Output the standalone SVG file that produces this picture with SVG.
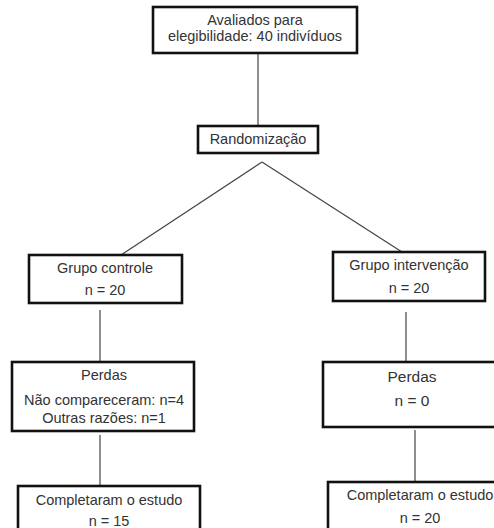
<svg xmlns="http://www.w3.org/2000/svg" width="494" height="528" viewBox="0 0 494 528">
<style>
.box{fill:#fff;stroke:#111;stroke-width:2.6}
.t{font-family:"Liberation Sans",Arial,sans-serif;font-size:14.5px;fill:#333;text-anchor:middle}
.big{font-size:15.5px}
.c line{stroke:#444;stroke-width:1.2}
</style>
<rect width="494" height="528" fill="#fff"/>
<g class="c" id="connectors">
<line x1="258" y1="53" x2="258" y2="126"/>
<line x1="262" y1="162" x2="121" y2="255"/>
<line x1="262" y1="162" x2="402" y2="252"/>
<line x1="100" y1="310" x2="100" y2="362"/>
<line x1="406" y1="312" x2="406" y2="362"/>
<line x1="100" y1="435" x2="100" y2="486"/>
<line x1="415" y1="430" x2="415" y2="482"/>
</g>
<g id="avaliados">
<rect class="box" x="153" y="7" width="204" height="46"/>
<text class="t" x="255" y="25">Avaliados para</text>
<text class="t" x="255" y="41">elegibilidade: 40 indivíduos</text>
</g>
<g id="randomizacao">
<rect class="box" x="198" y="126" width="120" height="27"/>
<text class="t" x="258" y="144">Randomização</text>
</g>
<g id="grupo-controle">
<rect class="box" x="29" y="255" width="153" height="48"/>
<text class="t" x="105" y="273">Grupo controle</text>
<text class="t" x="105" y="295">n = 20</text>
</g>
<g id="grupo-intervencao">
<rect class="box" x="333" y="252" width="152" height="49"/>
<text class="t" x="409" y="270">Grupo intervenção</text>
<text class="t" x="409" y="293">n = 20</text>
</g>
<g id="perdas-controle">
<rect class="box" x="12" y="362" width="182" height="69"/>
<text class="t" x="104" y="380">Perdas</text>
<text class="t" x="104" y="405">Não compareceram: n=4</text>
<text class="t" x="104" y="423">Outras razões: n=1</text>
</g>
<g id="perdas-intervencao">
<rect class="box" x="323" y="362" width="180" height="65"/>
<text class="t big" x="412" y="382">Perdas</text>
<text class="t big" x="412" y="406">n = 0</text>
</g>
<g id="completaram-controle">
<rect class="box" x="18" y="486" width="182" height="60"/>
<text class="t" x="109" y="505">Completaram o estudo</text>
<text class="t" x="109" y="526">n = 15</text>
</g>
<g id="completaram-intervencao">
<rect class="box" x="328" y="482" width="180" height="60"/>
<text class="t" x="420" y="500">Completaram o estudo</text>
<text class="t" x="420" y="523">n = 20</text>
</g>
</svg>
